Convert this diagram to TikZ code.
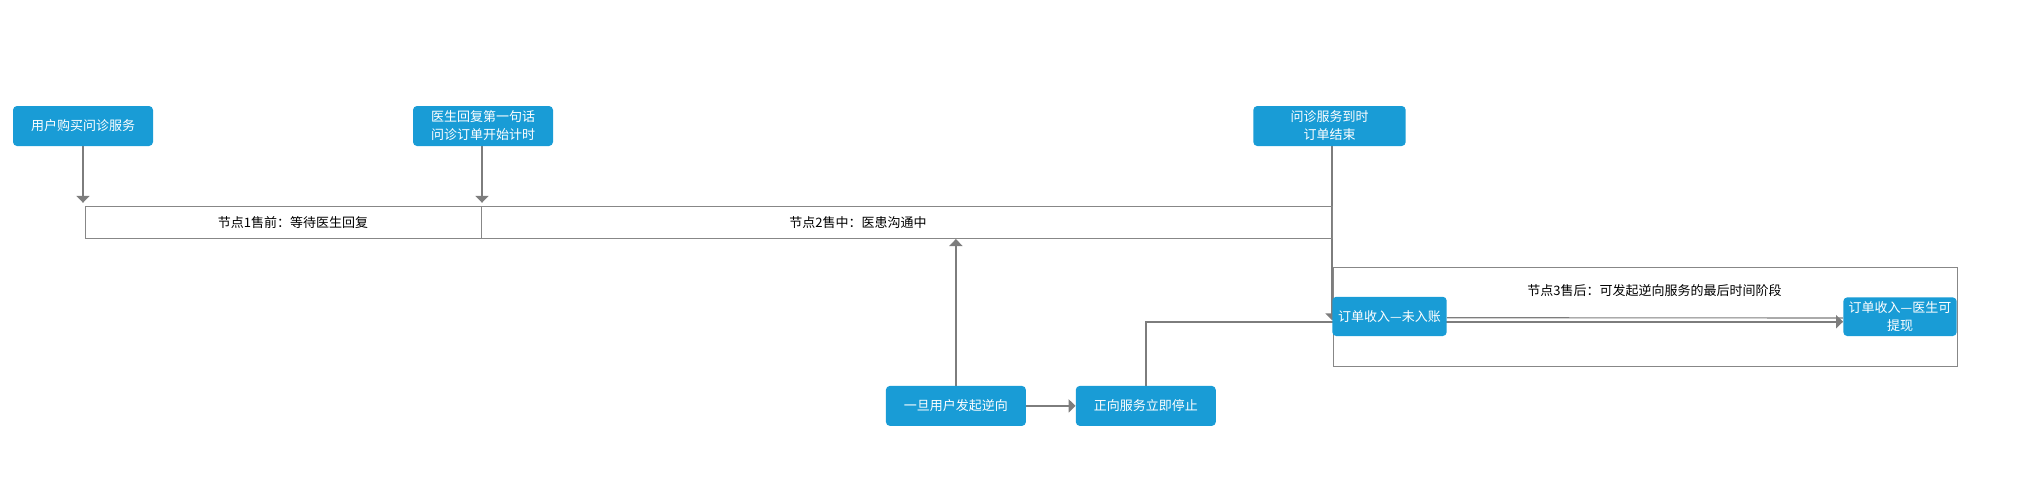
\documentclass[tikz,border=0pt]{standalone}
\usepackage{fontspec}
\newfontfamily\cjk{Noto Sans CJK SC}
\usetikzlibrary{arrows.meta,backgrounds}
\definecolor{boxblue}{RGB}{25,156,214}
\definecolor{linegray}{RGB}{125,125,125}
\definecolor{framegray}{RGB}{135,135,135}
\begin{document}
\begin{tikzpicture}[x=1pt,y=-1pt,
  every node/.style={font=\cjk\fontsize{13}{18}\selectfont},
  bluebox/.style={fill=boxblue, rounded corners=4pt, text=white, minimum width=140pt,
    minimum height=40pt, inner sep=0pt, align=center},
  frame/.style={draw=framegray, line width=1pt, inner sep=0pt},
  conn/.style={draw=linegray, line width=2pt, -{Triangle[length=7pt,width=13pt]}},
  thinline/.style={draw=linegray, line width=1.1pt}
]
\useasboundingbox (0,0) rectangle (2030,483);

% stage frames
\node[frame, minimum width=396.2pt, minimum height=31.3pt] (r1) at (283.4,222.35) {};
\node[frame, minimum width=850.5pt, minimum height=31.3pt] (r2) at (906.75,222.35) {};
\node[frame, minimum width=624pt, minimum height=99pt] (r3) at (1645,316.5) {};

% stage texts
\node (t1) at (293,223) {节点1售前：等待医生回复};
\node (t2) at (858,223) {节点2售中：医患沟通中};
\node (t3) at (1654.5,291) {节点3售后：可发起逆向服务的最后时间阶段};

% blue boxes
\node[bluebox] (b1) at (83,126) {用户购买问诊服务};
\node[bluebox] (b2) at (483,126) {医生回复第一句话\\问诊订单开始计时};
\node[bluebox, minimum width=152.4pt] (b3) at (1329.5,126) {问诊服务到时\\订单结束};
\node[bluebox, minimum width=114.4pt, minimum height=39.3pt] (b4) at (1389.5,316.4) {订单收入—未入账};
\node[bluebox, minimum width=113.4pt, minimum height=38.7pt] (b5) at (1900,316.7) {订单收入—医生可\\提现};
\node[bluebox] (b6) at (955.9,405.9) {一旦用户发起逆向};
\node[bluebox] (b7) at (1145.8,405.9) {正向服务立即停止};

% connectors (behind boxes)
\begin{pgfonlayer}{background}
\draw[conn, shorten >=3.4pt] (b1.south) -- (b1.south |- r1.north);
\draw[conn, shorten >=3.4pt] (b2.south -| r1.north east) -- (r1.north east);
\draw[conn] (b3.south -| b4.west) -- ([yshift=-4pt]b4.west);
\draw[conn, shorten >=0.5pt] (b6.north) -- (b6.north |- r2.south);
\draw[conn] (b6.east) -- (b7.west);
\draw[conn] (b7.north) |- ([yshift=-5pt]b5.west);
\draw[thinline] ([yshift=-1.3pt]b4.east) -- ([yshift=-1.3pt]b5.west);
\end{pgfonlayer}
\end{tikzpicture}
\end{document}
